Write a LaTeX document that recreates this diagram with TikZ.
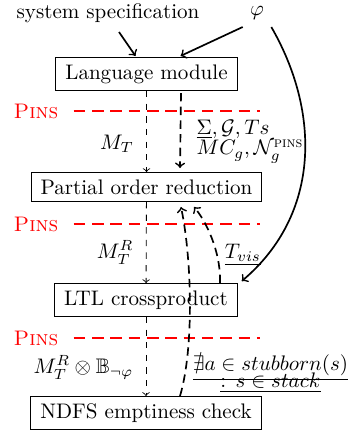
\documentclass[tikz,border=0pt]{standalone}
\usepackage{amsmath,amssymb}
\usetikzlibrary{calc}

\begin{document}
\begin{tikzpicture}[x=0.475pt,y=-0.475pt]
  \tikzset{
    stage_box/.style={draw, line width=0.5pt, inner xsep=4.5pt},
    pins_text/.style={text=red},
    pins_line/.style={red, line width=1.2pt, dash pattern=on 5.5pt off 3.2pt},
    flow_arrow/.style={->, dashed, line width=0.4pt},
    info_arrow/.style={->, thick, dash pattern=on 4pt off 2.5pt},
    input_arrow/.style={->, thick}
  }
  \useasboundingbox (0,0) rectangle (352,431);

  % inputs
  \node (sys_spec) at (108,13) {system specification};
  \node (phi_in) at (257,13) {$\varphi$};

  % stages
  \node[stage_box] (lang_mod) at (146.5,74) {Language module};
  \node[stage_box] (po_red) at (146.5,187) {Partial order reduction};
  \node[stage_box] (ltl_cp) at (146,300) {LTL crossproduct};
  \node[stage_box] (ndfs_chk) at (146,413) {NDFS emptiness check};

  % pins layers
  \node[pins_text] (pins_a) at (36,111) {\textsc{Pins}};
  \node[pins_text] (pins_b) at (36,224) {\textsc{Pins}};
  \node[pins_text] (pins_c) at (36,338) {\textsc{Pins}};
  \draw[pins_line] ($(pins_a.east)+(8,0)$) -- ++(186,0);
  \draw[pins_line] ($(pins_b.east)+(8,0)$) -- ++(186,0);
  \draw[pins_line] ($(pins_c.east)+(8,0)$) -- ++(186,0);

  % input arrows
  \draw[input_arrow] ($(sys_spec.south)+(11,2)$) -- ($(lang_mod.north)+(-11,-1)$);
  \draw[input_arrow] (phi_in.south west) -- ($(lang_mod.north)+(34,-1)$);
  \draw[input_arrow] (phi_in.south east)
    .. controls +(49,85) and +(79,-67) .. ($(ltl_cp.north east)+(4,-2)$);

  % state spaces
  \draw[flow_arrow] (lang_mod) -- (po_red)
    node[left=2.5pt, pos=0.65] {$M_T$};
  \draw[flow_arrow] (po_red) -- (ltl_cp)
    node[left=2.5pt, pos=0.62] {$M_T^R$};
  \draw[flow_arrow] (ltl_cp) -- (ndfs_chk)
    node[left=2.5pt, pos=0.64] {$M_T^R \otimes \mathbb{B}_{\neg\varphi}$};

  % extra information
  \draw[info_arrow] ($(lang_mod.south)+(34.5,2)$) -- ($(po_red.north)+(33.5,-4)$)
    node[right=4pt, pos=0.65, align=left]
      {$\underline{\Sigma}, \mathcal{G}, Ts$\\[-2.5pt]$MC_g, \mathcal{N}_g^{\textsc{pins}}$};
  \draw[info_arrow] ($(ltl_cp.north)+(74,0)$)
    .. controls +(1,-33) and +(11,13) .. ($(po_red.south)+(47.5,5)$)
    node[right, pos=0.3] {$\underline{T_{vis}}$};
  \draw[info_arrow] ($(ndfs_chk.north)+(34,0)$)
    .. controls +(14,-47) and +(11,53) .. ($(po_red.south)+(34.5,5)$)
    node[right, pos=0.14, align=center]
      {$\underline{\nexists a \in stubborn(s)}$\\[-4pt]$\underline{:\, s \in stack}$};
\end{tikzpicture}
\end{document}
